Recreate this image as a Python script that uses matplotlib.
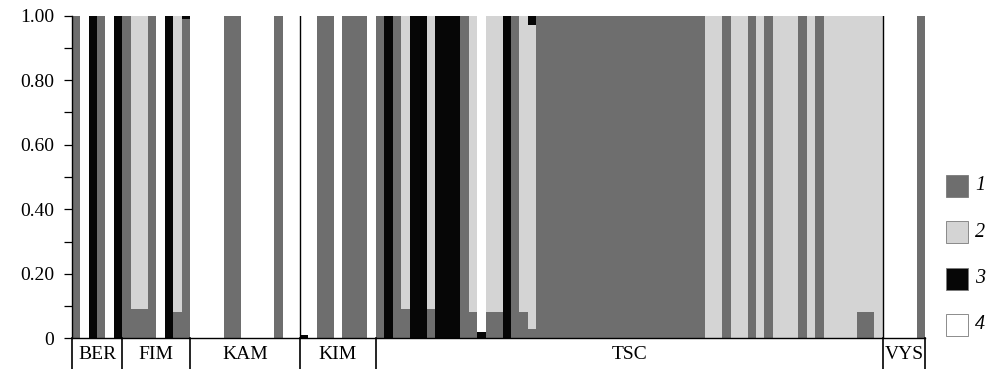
import numpy as np
import matplotlib
matplotlib.use("Agg")
import matplotlib.pyplot as plt
from matplotlib.patches import Rectangle
from matplotlib.transforms import blended_transform_factory

plt.rcParams['font.family'] = ['Liberation Serif', 'DejaVu Serif']

# DATOS
pops = ["BER", "FIM", "KAM", "KIM", "TSC", "VYS"]
pop_n = [6, 8, 13, 9, 60, 5]          # individuos por poblacion
clusters = ["1", "2", "3", "4"]
colores = ["#6e6e6e", "#d4d4d4", "#060606", "#ffffff"]

# proporcion de cada cluster por individuo (orden: BER, FIM, KAM, KIM, TSC, VYS)
q1 = ([1, 0, 0, 1, 0, 0] +
      [1, 0.09, 0.09, 1, 0, 0, 0.08, 0.99] +
      [0, 0, 0, 0, 1, 1, 0, 0, 0, 0, 1, 0, 0] +
      [0, 0, 1, 1, 0, 1, 1, 1, 0] +
      [1, 0, 1, 0.09, 0, 0, 0.09, 0, 0, 0, 1, 0.08, 0, 0.08, 0.08, 0, 1, 0.08, 0.03] +
      [1] * 20 +
      [0, 0, 1, 0, 0, 1, 0, 1, 0, 0, 0, 1, 0, 1, 0, 0, 0, 0, 0.08, 0.08, 0] +
      [0, 0, 0, 0, 1])
q2 = ([0] * 6 +
      [0, 0.91, 0.91, 0, 0, 0, 0.92, 0] +
      [0] * 13 +
      [0] * 9 +
      [0, 0, 0, 0.91, 0, 0, 0.91, 0, 0, 0, 0, 0.92, 0, 0.92, 0.92, 0, 0, 0.92, 0.94] +
      [0] * 20 +
      [1, 1, 0, 1, 1, 0, 1, 0, 1, 1, 1, 0, 1, 0, 1, 1, 1, 1, 0.92, 0.92, 1] +
      [0] * 5)
q3 = ([0, 0, 1, 0, 0, 1] +
      [0, 0, 0, 0, 0, 1, 0, 0.01] +
      [0] * 13 +
      [0.01, 0, 0, 0, 0, 0, 0, 0, 0] +
      [0, 1, 0, 0, 1, 1, 0, 1, 1, 1, 0, 0, 0.02, 0, 0, 1, 0, 0, 0.03] +
      [0] * 20 +
      [0] * 21 +
      [0] * 5)
q4 = ([0, 1, 0, 0, 1, 0] +
      [0, 0, 0, 0, 1, 0, 0, 0] +
      [1, 1, 1, 1, 0, 0, 1, 1, 1, 1, 0, 1, 1] +
      [0.99, 1, 0, 0, 1, 0, 0, 0, 1] +
      [0, 0, 0, 0, 0, 0, 0, 0, 0, 0, 0, 0, 0.98, 0, 0, 0, 0, 0, 0] +
      [0] * 20 +
      [0] * 21 +
      [1, 1, 1, 1, 0])

W, H = 997, 369
fig = plt.figure(figsize=(W / 100, H / 100), dpi=100)
ax = fig.add_axes([71.7 / W, 30.7 / H, (925 - 71.7) / W, (338.3 - 15.7) / H])

# BARRAS APILADAS
n = len(q1)
x = np.arange(n) + 0.5
base = np.zeros(n)
for q, c in zip([q1, q2, q3, q4], colores):
    q = np.array(q, dtype=float)
    ax.bar(x, q, width=1.0, bottom=base, color=c, linewidth=0, antialiased=False)
    base += q

ax.set_xlim(0, n)
ax.set_ylim(0, 1)

# lineas verticales entre poblaciones
limites = np.concatenate([[0], np.cumsum(pop_n)])
for b in [limites[3], limites[5]]:
    ax.axvline(b, color='black', lw=1.0)

trans = blended_transform_factory(ax.transData, ax.transAxes)
for b in limites:
    ax.plot([b, b], [0, -0.12], color='black', lw=1.2, transform=trans, clip_on=False)
for i, p in enumerate(pops):
    xc = (limites[i] + limites[i + 1]) / 2
    ax.text(xc, -0.05, p, transform=trans, ha='center', va='center', fontsize=14)

# EJES
ax.set_xticks([])
ax.set_yticks([0, 0.2, 0.4, 0.6, 0.8, 1.0])
ax.set_yticklabels(['0', '0.20', '0.40', '0.60', '0.80', '1.00'])
ax.set_yticks([0.1, 0.3, 0.5, 0.7, 0.9], minor=True)
ax.tick_params(axis='y', which='both', direction='out', length=5.8, width=0.9,
               pad=7, labelsize=14)
for s in ['top', 'right']:
    ax.spines[s].set_visible(False)
ax.spines['left'].set_linewidth(1.0)
ax.spines['bottom'].set_linewidth(1.0)

# LEYENDA
for i, (lab, c) in enumerate(zip(clusters, colores)):
    yc = 186 + i * 46.3
    fig.add_artist(Rectangle((946 / W, 1 - (yc + 11) / H), 22 / W, 22 / H,
                             transform=fig.transFigure, facecolor=c,
                             edgecolor='#7a7a7a', lw=0.6))
    fig.text(975 / W, 1 - yc / H, lab, style='italic', fontsize=14.5,
             ha='left', va='center')

fig.savefig('out.png', dpi=100)
